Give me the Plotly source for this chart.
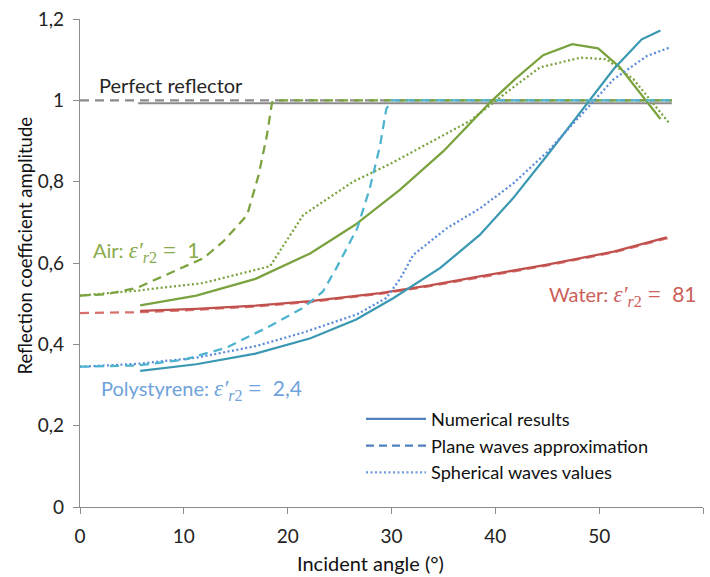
import plotly.graph_objects as go

# ---------------- data ----------------
x_ticks = [0, 10, 20, 30, 40, 50, 60]
y_ticks = [0, 0.2, 0.4, 0.6, 0.8, 1.0, 1.2]
y_tick_labels = ["0", "0,2", "0,4", "0,6", "0,8", "1", "1,2"]

reflector_plane_x = [0, 57.0]
reflector_plane_y = [1.0, 1.0]
reflector_num_x = [5.6, 57.0]
reflector_num_y = [0.993, 0.993]

water_num_x = [5.8, 11.2, 16.9, 22.2, 28.9, 33.7, 38.5, 45.0, 51.4, 56.5]
water_num_y = [0.482, 0.487, 0.495, 0.506, 0.526, 0.545, 0.567, 0.596, 0.628, 0.663]
water_plane_x = [0, 5.8, 11.2, 16.9, 22.2, 28.9, 33.7, 38.5, 45.0, 51.4, 57.0]
water_plane_y = [0.477, 0.479, 0.485, 0.493, 0.504, 0.524, 0.543, 0.565, 0.594, 0.626, 0.664]

air_num_x = [5.8, 11.2, 16.9, 22.2, 26.5, 30.8, 35.0, 39.5, 41.9, 44.6, 47.4, 49.9, 52.0, 55.9]
air_num_y = [0.496, 0.520, 0.561, 0.624, 0.694, 0.780, 0.875, 0.995, 1.052, 1.111, 1.138, 1.128, 1.081, 0.954]
air_plane_x = [0, 2.5, 5.5, 8.7, 11.9, 13.8, 16.1, 17.2, 18.0, 18.5, 19.0, 57.0]
air_plane_y = [0.520, 0.523, 0.539, 0.575, 0.612, 0.653, 0.718, 0.816, 0.914, 0.995, 1.0, 1.0]
air_sph_x = [0, 5.5, 11.9, 18.3, 21.5, 26.3, 29.9, 33.7, 37.6, 41.1, 44.3, 48.2, 50.7, 53.3, 56.8]
air_sph_y = [0.520, 0.532, 0.551, 0.592, 0.718, 0.800, 0.844, 0.897, 0.950, 1.020, 1.081, 1.105, 1.101, 1.052, 0.942]

poly_num_x = [5.8, 11.2, 16.9, 22.2, 26.6, 30.2, 34.7, 38.5, 41.7, 45.0, 48.2, 51.4, 54.1, 55.9]
poly_num_y = [0.335, 0.351, 0.377, 0.415, 0.461, 0.514, 0.588, 0.669, 0.759, 0.865, 0.971, 1.077, 1.150, 1.172]
poly_plane_x = [0, 5.5, 10.0, 14.1, 18.3, 21.5, 23.4, 24.7, 26.7, 27.9, 28.9, 29.5, 30.0, 57.0]
poly_plane_y = [0.345, 0.348, 0.362, 0.392, 0.445, 0.490, 0.530, 0.588, 0.685, 0.783, 0.889, 0.979, 1.0, 1.0]
poly_sph_x = [0, 5.5, 11.2, 17.0, 21.5, 26.7, 29.5, 30.8, 32.1, 35.3, 38.5, 41.7, 45.0, 48.2, 51.4, 54.6, 56.8]
poly_sph_y = [0.345, 0.352, 0.367, 0.396, 0.429, 0.474, 0.514, 0.560, 0.620, 0.685, 0.734, 0.795, 0.873, 0.962, 1.052, 1.109, 1.130]

legend_names = ["Numerical results", "Plane waves approximation", "Spherical waves values"]

# ---------------- styles ----------------
FONT = "Lato"
GREEN = "#7AA23E"
TEAL = "#3A98B2"
CYAN = "#4DB3CF"
BLUE_DOT = "#5A8BD8"
RED = "#C0504D"
RED_DASH = "#D8706C"
GRAY = "#8A8A8A"
LEG = "#4F81BD"
DASH = "9px,6px"
DOT = "2px,2.5px"
W = 2.25

fig = go.Figure()

def add(x, y, color, dash="solid", width=W):
    fig.add_trace(go.Scatter(x=x, y=y, mode="lines", showlegend=False,
                             line=dict(color=color, dash=dash, width=width),
                             hoverinfo="skip"))

add(reflector_num_x, reflector_num_y, GRAY, "solid", 2.0)
add(reflector_plane_x, reflector_plane_y, GRAY, DASH)
add(water_plane_x, water_plane_y, RED_DASH, DASH)
add(water_num_x, water_num_y, RED, "solid")
add(air_num_x, air_num_y, GREEN, "solid")
add(air_sph_x, air_sph_y, GREEN, DOT)
add(air_plane_x, air_plane_y, GREEN, DASH)
add(poly_num_x, poly_num_y, TEAL, "solid")
add(poly_sph_x, poly_sph_y, BLUE_DOT, DOT)
add(poly_plane_x, poly_plane_y, CYAN, DASH)

# legend-only entries
for name, dash, col in zip(legend_names, ["solid", "8px,5px", DOT], [LEG, LEG, "#6C9BE0"]):
    fig.add_trace(go.Scatter(x=[None], y=[None], mode="lines", name=name,
                             line=dict(color=col, dash=dash, width=2.25)))

NB = "\u00a0"

def label(name, value):
    return (name + ": " + '<span style="font-family:Liberation Serif;font-size:23px">'
            + "<i>ε′</i><sub><i>r</i>2</sub>" + NB + "=" + NB + NB + "</span>"
            + '<span style="font-size:21px">' + value + "</span>")

annotations = [
    dict(x=97, y=82, text="Perfect reflector", color="#262626"),
    dict(x=91, y=250, text=label("Air", "1"), color="#8AAB4A"),
    dict(x=99, y=389, text=label("Polystyrene", "2,4"), color="#6FA3DC"),
    dict(x=547, y=294, text=label("Water", "81"), color="#CC5F5B"),
]
layout_anns = []
for a in annotations:
    layout_anns.append(dict(xref="paper", yref="paper", x=(a["x"] - 80) / 623.0,
                            y=(507 - a["y"]) / 491.0,
                            xanchor="left", yanchor="middle", showarrow=False,
                            text=a["text"], font=dict(family=FONT, size=20, color=a["color"])))
# axis titles
layout_anns.append(dict(xref="paper", yref="paper", x=(370 - 80) / 623.0, y=(507 - 563) / 491.0,
                        xanchor="center", yanchor="middle", showarrow=False,
                        text="Incident angle (°)", font=dict(family=FONT, size=20, color="#111")))
layout_anns.append(dict(xref="paper", yref="paper", x=(25 - 80) / 623.0, y=(507 - 244) / 491.0,
                        xanchor="center", yanchor="middle", showarrow=False, textangle=-90,
                        text="Reflection coefficient amplitude",
                        font=dict(family=FONT, size=18.5, color="#111")))

fig.update_layout(
    width=710, height=577,
    margin=dict(l=80, r=7, t=16, b=70),
    paper_bgcolor="white", plot_bgcolor="white",
    font=dict(family=FONT, size=17, color="#222"),
    annotations=layout_anns,
    legend=dict(x=(361 - 80) / 623.0, y=(507 - 400) / 491.0, xanchor="left", yanchor="top",
                bgcolor="rgba(0,0,0,0)", itemwidth=60, tracegroupgap=0,
                font=dict(family=FONT, size=18.2, color="#111")),
    xaxis=dict(range=[0, 60], tickvals=x_ticks, showgrid=False, zeroline=False,
               showline=True, linecolor="#8C8C8C", linewidth=1.2,
               ticks="outside", ticklen=6, tickcolor="#8C8C8C", ticklabelstandoff=6,
               tickfont=dict(family=FONT, size=19, color="#222")),
    yaxis=dict(range=[0, 1.2], tickvals=y_ticks, ticktext=y_tick_labels, showgrid=False,
               zeroline=False, showline=True, linecolor="#8C8C8C", linewidth=1.2,
               ticks="outside", ticklen=6, tickcolor="#8C8C8C", ticklabelstandoff=5,
               tickfont=dict(family=FONT, size=19, color="#222")),
)

fig.write_html("out.html", post_script="document.body.style.margin='0';",
               config={"displayModeBar": False})
